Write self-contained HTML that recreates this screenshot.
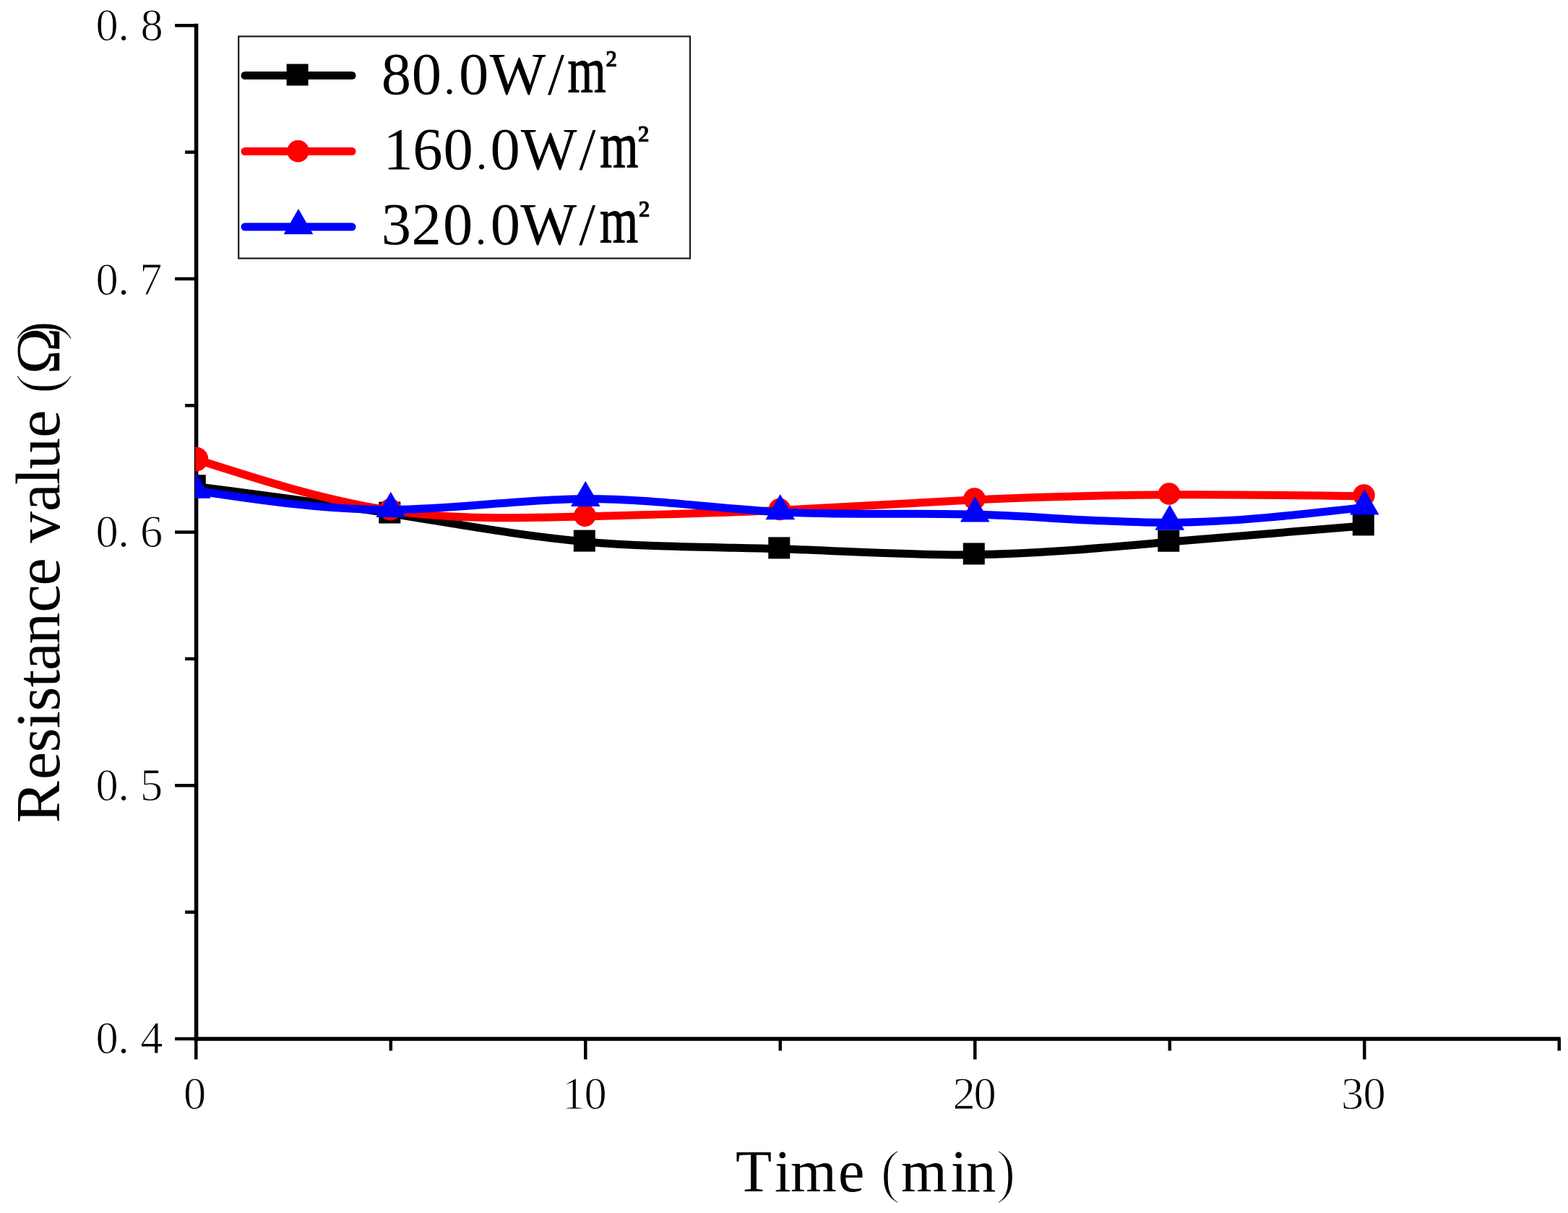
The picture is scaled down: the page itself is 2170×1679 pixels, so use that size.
<!DOCTYPE html>
<html><head><meta charset="utf-8"><title>Resistance value vs Time</title>
<style>html,body{margin:0;padding:0;background:#fff;}body{width:2170px;height:1679px;overflow:hidden;}svg{display:block;}</style>
</head><body>
<svg width="2170" height="1679" viewBox="0 0 2170 1679">
<defs><clipPath id="pc"><rect x="270.30" y="0" width="2170" height="1437.9"/></clipPath></defs>
<rect width="2170" height="1679" fill="#fff"/>
<g stroke="#000" stroke-width="4.5"><line x1="242.10" y1="1437.90" x2="271.60" y2="1437.90"/><line x1="256.10" y1="1262.58" x2="271.60" y2="1262.58"/><line x1="242.10" y1="1087.25" x2="271.60" y2="1087.25"/><line x1="256.10" y1="911.93" x2="271.60" y2="911.93"/><line x1="242.10" y1="736.60" x2="271.60" y2="736.60"/><line x1="256.10" y1="561.28" x2="271.60" y2="561.28"/><line x1="242.10" y1="385.95" x2="271.60" y2="385.95"/><line x1="256.10" y1="210.63" x2="271.60" y2="210.63"/><line x1="242.10" y1="35.30" x2="271.60" y2="35.30"/><line x1="271.30" y1="1437.90" x2="271.30" y2="1466.40"/><line x1="540.80" y1="1437.90" x2="540.80" y2="1454.40"/><line x1="810.30" y1="1437.90" x2="810.30" y2="1466.40"/><line x1="1079.80" y1="1437.90" x2="1079.80" y2="1454.40"/><line x1="1349.30" y1="1437.90" x2="1349.30" y2="1466.40"/><line x1="1618.80" y1="1437.90" x2="1618.80" y2="1454.40"/><line x1="1888.30" y1="1437.90" x2="1888.30" y2="1466.40"/><line x1="2157.80" y1="1437.90" x2="2157.80" y2="1454.40"/></g>
<line x1="271.60" y1="32.8" x2="271.60" y2="1440.65" stroke="#000" stroke-width="5.5"/>
<line x1="268.85" y1="1437.90" x2="2159.80" y2="1437.90" stroke="#000" stroke-width="5.5"/>
<g font-family="'Liberation Serif', 'Times New Roman', serif" fill="#000">
<g font-size="62.5" stroke="#fff" stroke-width="1.0"><text x="132.38 163.29 194.47" y="55.77">0.8</text><text x="132.38 163.29 193.32" y="408.42">0.7</text><text x="132.38 163.29 194.06" y="757.07">0.6</text><text x="132.38 163.29 193.88" y="1107.72">0.5</text><text x="132.38 163.29 194.35" y="1458.37">0.4</text><text x="254.12" y="1534.6">0</text><text x="778.31 808.58" y="1534.6">10</text><text x="1318.53 1347.38" y="1534.6">20</text><text x="1856.00 1886.47" y="1534.6">30</text></g>
<text x="1017.92 1071.98 1093.98 1160.10 1196.49 1218.50 1246.98 1315.68 1337.32 1378.16" y="1648.5" font-size="82">Time <tspan stroke="#fff" stroke-width="2.2">(</tspan>min<tspan stroke="#fff" stroke-width="2.2">)</tspan></text>
<text transform="translate(82,1200.0) rotate(-90)" x="60.89 120.80 158.53 191.87 215.43 248.65 271.94 308.40 352.19 389.30 427.92 448.50 491.94 528.66 550.55 593.90 632.52 654.58 681.90 727.50" y="0" font-size="87">Resistance value <tspan stroke="#fff" stroke-width="2.2">(</tspan>Ω<tspan stroke="#fff" stroke-width="2.2">)</tspan></text>
</g>
<g clip-path="url(#pc)"><path d="M271.30,673.50 C361.13,685.04 450.97,696.58 540.80,710.80 C630.63,725.02 720.47,741.92 810.30,749.90 C900.13,757.88 989.97,756.94 1079.80,759.70 C1169.63,762.46 1259.47,768.92 1349.30,767.80 C1439.13,766.68 1528.97,758.00 1618.80,750.05 C1708.63,742.10 1798.47,734.90 1888.30,727.70" fill="none" stroke="#000000" stroke-width="11" stroke-linejoin="round"/><rect x="254.80" y="657.20" width="30.0" height="30.0" fill="#000000"/><rect x="524.30" y="694.50" width="30.0" height="30.0" fill="#000000"/><rect x="793.80" y="733.60" width="30.0" height="30.0" fill="#000000"/><rect x="1063.30" y="743.40" width="30.0" height="30.0" fill="#000000"/><rect x="1332.80" y="751.50" width="30.0" height="30.0" fill="#000000"/><rect x="1602.30" y="733.75" width="30.0" height="30.0" fill="#000000"/><rect x="1871.80" y="711.40" width="30.0" height="30.0" fill="#000000"/><path d="M271.30,635.80 C361.13,664.62 450.97,693.45 540.80,706.60 C630.63,719.75 720.47,717.23 810.30,714.90 C900.13,712.57 989.97,710.44 1079.80,706.30 C1169.63,702.16 1259.47,696.01 1349.30,691.80 C1439.13,687.59 1528.97,685.31 1618.80,684.80 C1708.63,684.29 1798.47,685.54 1888.30,686.80" fill="none" stroke="#ff0000" stroke-width="11" stroke-linejoin="round"/><circle cx="271.30" cy="635.6" r="17.0" fill="#ff0000"/><circle cx="540.00" cy="705.30" r="15.3" fill="#ff0000"/><circle cx="809.50" cy="713.60" r="15.3" fill="#ff0000"/><circle cx="1079.00" cy="705.00" r="15.3" fill="#ff0000"/><circle cx="1348.50" cy="690.50" r="15.3" fill="#ff0000"/><circle cx="1618.00" cy="683.50" r="15.3" fill="#ff0000"/><circle cx="1887.50" cy="685.50" r="15.3" fill="#ff0000"/><path d="M271.30,679.30 C361.13,692.69 450.97,706.07 540.80,705.60 C630.63,705.13 720.47,690.79 810.30,690.50 C900.13,690.21 989.97,703.97 1079.80,708.80 C1169.63,713.63 1259.47,709.54 1349.30,712.10 C1439.13,714.66 1528.97,723.86 1618.80,723.30 C1708.63,722.74 1798.47,712.42 1888.30,702.10" fill="none" stroke="#0000ff" stroke-width="11" stroke-linejoin="round"/><polygon points="271.30,654.50 291.65,689.75 250.95,689.75" fill="#0000ff"/><polygon points="540.80,680.80 561.15,716.05 520.45,716.05" fill="#0000ff"/><polygon points="810.30,665.70 830.65,700.95 789.95,700.95" fill="#0000ff"/><polygon points="1079.80,684.00 1100.15,719.25 1059.45,719.25" fill="#0000ff"/><polygon points="1349.30,687.30 1369.65,722.55 1328.95,722.55" fill="#0000ff"/><polygon points="1618.80,698.50 1639.15,733.75 1598.45,733.75" fill="#0000ff"/><polygon points="1888.30,677.30 1908.65,712.55 1867.95,712.55" fill="#0000ff"/></g>
<g font-family="'Liberation Serif', 'Times New Roman', serif" fill="#000">
<rect x="330.2" y="50.4" width="624.8" height="307.2" fill="none" stroke="#1a1a1a" stroke-width="2.2"/>
<g stroke-width="11" stroke-linecap="round">
<line x1="339" y1="104.5" x2="487" y2="104.5" stroke="#000"/>
<line x1="339" y1="209.5" x2="487" y2="209.5" stroke="#f00"/>
<line x1="339" y1="314.0" x2="487" y2="314.0" stroke="#00f"/>
</g>
<rect x="396.60" y="88.50" width="30.0" height="30.0" fill="#000"/><circle cx="412.50" cy="209.30" r="15.3" fill="#f00"/><polygon points="413.00,289.00 433.35,324.25 392.65,324.25" fill="#00f"/>
<g font-size="82.5"><text y="129.8"><tspan x="527.7 569.7">80</tspan><tspan x="614.5" font-size="60">.</tspan><tspan x="635.0 677.5 758.0">0W/</tspan></text><text transform="translate(785.4,127.5) scale(0.76,1)" font-size="90" stroke="#000" stroke-width="1.2">m</text><text x="838.1" y="106.4" font-size="52" stroke="#000" stroke-width="0.8">²</text><text y="234.3"><tspan x="530.6 571.2 613.6">160</tspan><tspan x="659.0" font-size="60">.</tspan><tspan x="678.4 720.8 801.4">0W/</tspan></text><text transform="translate(830.3,231.7) scale(0.76,1)" font-size="90" stroke="#000" stroke-width="1.2">m</text><text x="882.5" y="210.1" font-size="52" stroke="#000" stroke-width="0.8">²</text><text y="338.3"><tspan x="527.7 569.4 613.1">320</tspan><tspan x="658.1" font-size="60">.</tspan><tspan x="678.7 720.3 801.3">0W/</tspan></text><text transform="translate(830.0,335.6) scale(0.76,1)" font-size="90" stroke="#000" stroke-width="1.2">m</text><text x="883.6" y="314.3" font-size="52" stroke="#000" stroke-width="0.8">²</text></g>
</g>
</svg>
</body></html>
